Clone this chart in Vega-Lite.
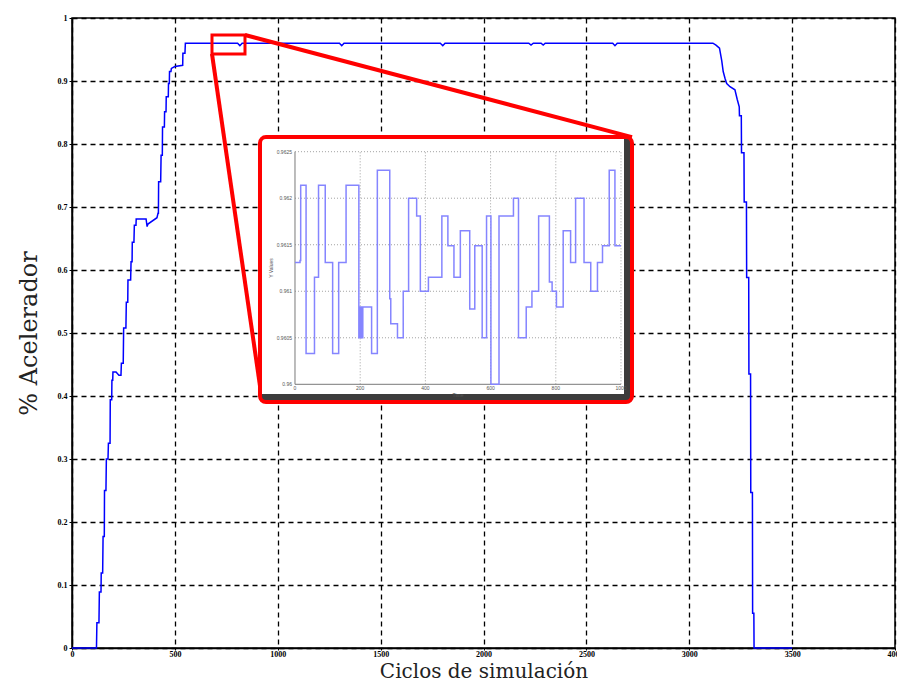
{
  "$schema": "https://vega.github.io/schema/vega-lite/v6.json",
  "width": 823,
  "height": 630,
  "autosize": "none",
  "padding": {"left": 72, "top": 18, "right": 2, "bottom": 34},
  "background": "white",
  "config": {"view": {"stroke": "#000", "strokeWidth": 1.5}},
  "datasets": {
    "main": [
      {"c":0,"a":0},{"c":119,"a":0},{"c":121,"a":0.04},{"c":131,"a":0.04},{"c":133,"a":0.089},{"c":141,"a":0.089},
      {"c":142,"a":0.119},{"c":149,"a":0.119},{"c":151,"a":0.177},{"c":157,"a":0.177},{"c":158,"a":0.25},{"c":165,"a":0.25},
      {"c":167,"a":0.3},{"c":175,"a":0.3},{"c":177,"a":0.325},{"c":185,"a":0.325},{"c":186,"a":0.394},{"c":193,"a":0.394},
      {"c":194,"a":0.425},{"c":198,"a":0.425},{"c":199,"a":0.438},{"c":214,"a":0.438},{"c":228,"a":0.433},{"c":238,"a":0.433},
      {"c":240,"a":0.452},{"c":249,"a":0.452},{"c":251,"a":0.508},{"c":262,"a":0.508},{"c":264,"a":0.549},{"c":271,"a":0.549},
      {"c":272,"a":0.584},{"c":285,"a":0.584},{"c":287,"a":0.613},{"c":292,"a":0.613},{"c":293,"a":0.644},{"c":301,"a":0.644},
      {"c":303,"a":0.671},{"c":311,"a":0.671},{"c":312,"a":0.681},{"c":360,"a":0.681},{"c":365,"a":0.669},{"c":369,"a":0.673},
      {"c":413,"a":0.683},{"c":418,"a":0.69},{"c":420,"a":0.69},{"c":421,"a":0.74},{"c":431,"a":0.74},{"c":433,"a":0.782},
      {"c":439,"a":0.782},{"c":440,"a":0.827},{"c":449,"a":0.827},{"c":450,"a":0.851},{"c":457,"a":0.851},{"c":458,"a":0.875},
      {"c":468,"a":0.875},{"c":469,"a":0.896},{"c":473,"a":0.896},{"c":474,"a":0.915},{"c":481,"a":0.915},{"c":483,"a":0.92},
      {"c":500,"a":0.923},{"c":538,"a":0.925},{"c":539,"a":0.944},{"c":549,"a":0.944},{"c":551,"a":0.96},
      {"c":805,"a":0.96},{"c":816,"a":0.956},{"c":827,"a":0.96},
      {"c":1300,"a":0.96},{"c":1311,"a":0.956},{"c":1322,"a":0.96},
      {"c":1790,"a":0.96},{"c":1802,"a":0.956},{"c":1813,"a":0.96},
      {"c":2220,"a":0.96},{"c":2231,"a":0.957},{"c":2242,"a":0.96},
      {"c":2280,"a":0.96},{"c":2290,"a":0.957},{"c":2300,"a":0.96},
      {"c":2628,"a":0.96},{"c":2639,"a":0.956},{"c":2650,"a":0.96},
      {"c":3115,"a":0.96},{"c":3130,"a":0.957},{"c":3147,"a":0.952},{"c":3158,"a":0.932},{"c":3165,"a":0.915},{"c":3174,"a":0.904},
      {"c":3182,"a":0.896},{"c":3198,"a":0.891},{"c":3222,"a":0.886},{"c":3233,"a":0.871},{"c":3243,"a":0.859},{"c":3244,"a":0.845},
      {"c":3253,"a":0.845},{"c":3254,"a":0.786},{"c":3266,"a":0.786},{"c":3267,"a":0.708},{"c":3278,"a":0.708},{"c":3279,"a":0.588},
      {"c":3289,"a":0.588},{"c":3290,"a":0.435},{"c":3298,"a":0.435},{"c":3299,"a":0.247},{"c":3307,"a":0.247},{"c":3308,"a":0.055},
      {"c":3314,"a":0.055},{"c":3315,"a":0},{"c":3500,"a":0}
    ],
    "zoom": [
      {"t":0,"v":0.96131},{"t":15.5,"v":0.96133},{"t":17.5,"v":0.96214},{"t":34,"v":0.96033},{"t":59.8,"v":0.96115},
      {"t":72.2,"v":0.96214},{"t":92.8,"v":0.96131},{"t":115.5,"v":0.96033},{"t":134,"v":0.96131},{"t":156.7,"v":0.96214},
      {"t":195.9,"v":0.9605},{"t":200,"v":0.96083},{"t":202,"v":0.9605},{"t":204,"v":0.96083},{"t":206,"v":0.9605},
      {"t":208,"v":0.96083},{"t":235,"v":0.96033},{"t":252.6,"v":0.9623},{"t":290.7,"v":0.96092},{"t":293.8,"v":0.96065},
      {"t":314.4,"v":0.9605},{"t":332,"v":0.961},{"t":348.5,"v":0.962},{"t":373.2,"v":0.96181},{"t":384.5,"v":0.961},
      {"t":409.3,"v":0.96115},{"t":450.5,"v":0.96181},{"t":469,"v":0.96149},{"t":487.6,"v":0.96115},{"t":507.2,"v":0.96165},
      {"t":536,"v":0.96081},{"t":551.5,"v":0.96149},{"t":574.2,"v":0.9605},{"t":587.6,"v":0.96181},{"t":601,"v":0.96},
      {"t":625.8,"v":0.96181},{"t":670.1,"v":0.962},{"t":685.6,"v":0.9605},{"t":709.3,"v":0.96083},{"t":726.8,"v":0.961},
      {"t":747.4,"v":0.96181},{"t":780.4,"v":0.9611},{"t":788.7,"v":0.961},{"t":802,"v":0.96083},{"t":822.7,"v":0.96165},
      {"t":845.4,"v":0.96131},{"t":860.8,"v":0.962},{"t":886.6,"v":0.96131},{"t":907.2,"v":0.961},{"t":927.8,"v":0.96131},
      {"t":943.3,"v":0.96149},{"t":963.9,"v":0.9623},{"t":981.4,"v":0.96149},{"t":1000,"v":0.96149}
    ]
  },
  "layer": [
    {
      "layer": [
        {
          "data": {"name": "main"},
          "mark": {"type": "line", "color": "#0000ff", "strokeWidth": 1.5},
          "encoding": {
            "x": {"field": "c", "type": "quantitative", "title": "Ciclos de simulación",
              "scale": {"domain": [0, 4000], "nice": false, "zero": false},
              "axis": {"values": [0,500,1000,1500,2000,2500,3000,3500,4000], "format": "d", "grid": true, "gridColor": "#000", "gridDash": [5,4], "gridWidth": 1.3,
                "domainColor": "#000", "domainWidth": 1.5, "tickColor": "#000", "tickSize": 2, "labelFlush": false, "labelOverlap": false,
                "labelFont": "Liberation Serif", "labelFontSize": 8, "labelFontWeight": "bold", "labelColor": "#000", "labelPadding": 0,
                "titleFont": "DejaVu Serif", "titleFontSize": 20, "titleFontWeight": "normal", "titleColor": "#222",
                "titleBaseline": "alphabetic", "titleY": 29}},
            "y": {"field": "a", "type": "quantitative", "title": "% Acelerador",
              "scale": {"domain": [0, 1], "nice": false},
              "axis": {"values": [0,0.1,0.2,0.3,0.4,0.5,0.6,0.7,0.8,0.9,1], "format": "~g", "grid": true, "gridColor": "#000", "gridDash": [5,4], "gridWidth": 1.3,
                "domainColor": "#000", "domainWidth": 1.5, "tickColor": "#000", "tickSize": 3, "labelFlush": false, "labelOverlap": false,
                "labelFont": "Liberation Serif", "labelFontSize": 8, "labelFontWeight": "bold", "labelColor": "#000", "labelPadding": 2,
                "titleFont": "DejaVu Serif", "titleFontSize": 24, "titleFontWeight": "normal", "titleColor": "#222", "titlePadding": 16}}
          }
        },
        {
          "data": {"values": [
            {"c1": 840.8, "a1": 0.973, "c2": 2721.7, "a2": 0.811},
            {"c1": 680.4, "a1": 0.943, "c2": 923, "a2": 0.395}
          ]},
          "mark": {"type": "rule", "color": "#ff0000", "strokeWidth": 4},
          "encoding": {
            "x": {"field": "c1", "type": "quantitative", "title": "Ciclos de simulación"},
            "y": {"field": "a1", "type": "quantitative", "title": "% Acelerador"},
            "x2": {"field": "c2"},
            "y2": {"field": "a2"}
          }
        },
        {
          "data": {"values": [{"c1": 680.4, "c2": 840.8, "a1": 0.973, "a2": 0.943}]},
          "mark": {"type": "rect", "filled": false, "color": "#ff0000", "strokeWidth": 3},
          "encoding": {
            "x": {"field": "c1", "type": "quantitative", "title": "Ciclos de simulación"},
            "x2": {"field": "c2"},
            "y": {"field": "a1", "type": "quantitative", "title": "% Acelerador"},
            "y2": {"field": "a2"}
          }
        },
        {
          "data": {"values": [{"c1": 913.7, "c2": 2721.7, "a1": 0.811, "a2": 0.3905}]},
          "mark": {"type": "rect", "color": "#3c3c3c", "cornerRadius": 5},
          "encoding": {
            "x": {"field": "c1", "type": "quantitative", "title": "Ciclos de simulación"},
            "x2": {"field": "c2"},
            "y": {"field": "a1", "type": "quantitative", "title": "% Acelerador"},
            "y2": {"field": "a2"}
          }
        },
        {
          "data": {"values": [{"c1": 913.7, "c2": 2682.9, "a1": 0.811, "a2": 0.403}]},
          "mark": {"type": "rect", "color": "#ffffff"},
          "encoding": {
            "x": {"field": "c1", "type": "quantitative", "title": "Ciclos de simulación"},
            "x2": {"field": "c2"},
            "y": {"field": "a1", "type": "quantitative", "title": "% Acelerador"},
            "y2": {"field": "a2"}
          }
        },
        {
          "data": {"values": [{"c1": 913.7, "c2": 2721.7, "a1": 0.811, "a2": 0.3905}]},
          "mark": {"type": "rect", "filled": false, "color": "#ff0000", "strokeWidth": 4, "cornerRadius": 6},
          "encoding": {
            "x": {"field": "c1", "type": "quantitative", "title": "Ciclos de simulación"},
            "x2": {"field": "c2"},
            "y": {"field": "a1", "type": "quantitative", "title": "% Acelerador"},
            "y2": {"field": "a2"}
          }
        }
      ]
    },
    {
      "layer": [
        {
          "data": {"values": [{"t": 200}, {"t": 400}, {"t": 600}, {"t": 800}, {"t": 1000}]},
          "mark": {"type": "rule", "color": "#8a8a8a", "strokeWidth": 0.8, "strokeDash": [1, 2]},
          "encoding": {
            "x": {"field": "t", "type": "quantitative", "scale": {"domain": [-684, 1840.5], "nice": false, "zero": false}, "axis": null},
            "y": {"datum": 0.96, "type": "quantitative", "scale": {"domain": [0.9571657, 0.963937], "nice": false, "zero": false}, "axis": null},
            "y2": {"datum": 0.9625}
          }
        },
        {
          "data": {"values": [{"v": 0.9605}, {"v": 0.961}, {"v": 0.9615}, {"v": 0.962}, {"v": 0.9625}]},
          "mark": {"type": "rule", "color": "#8a8a8a", "strokeWidth": 0.8, "strokeDash": [1, 2]},
          "encoding": {
            "y": {"field": "v", "type": "quantitative", "axis": null},
            "x": {"datum": 0, "type": "quantitative", "axis": null},
            "x2": {"datum": 1000}
          }
        },
        {
          "data": {"values": [{"t1": 0, "t2": 0, "v1": 0.96, "v2": 0.9625}, {"t1": 0, "t2": 1000, "v1": 0.96, "v2": 0.96}]},
          "mark": {"type": "rule", "color": "#7a7a7a", "strokeWidth": 1},
          "encoding": {
            "x": {"field": "t1", "type": "quantitative", "axis": null},
            "x2": {"field": "t2"},
            "y": {"field": "v1", "type": "quantitative", "axis": null},
            "y2": {"field": "v2"}
          }
        },
        {
          "data": {"values": [{"t": 0, "lab": "0"}, {"t": 200, "lab": "200"}, {"t": 400, "lab": "400"}, {"t": 600, "lab": "600"}, {"t": 800, "lab": "800"}, {"t": 1000, "lab": "1000"}]},
          "mark": {"type": "text", "fontSize": 5, "color": "#555", "baseline": "top", "dy": 2},
          "encoding": {
            "x": {"field": "t", "type": "quantitative", "axis": null},
            "y": {"datum": 0.96, "type": "quantitative", "axis": null},
            "text": {"field": "lab"}
          }
        },
        {
          "data": {"values": [{"v": 0.96, "lab": "0.96"}, {"v": 0.9605, "lab": "0.9605"}, {"v": 0.961, "lab": "0.961"}, {"v": 0.9615, "lab": "0.9615"}, {"v": 0.962, "lab": "0.962"}, {"v": 0.9625, "lab": "0.9625"}]},
          "mark": {"type": "text", "fontSize": 5, "color": "#555", "align": "right", "dx": -3},
          "encoding": {
            "y": {"field": "v", "type": "quantitative", "axis": null},
            "x": {"datum": 0, "type": "quantitative", "axis": null},
            "text": {"field": "lab"}
          }
        },
        {
          "data": {"values": [{"t": 500, "v": 0.96, "lab": "Time"}]},
          "mark": {"type": "text", "fontSize": 5, "color": "#555", "baseline": "top", "dy": 9},
          "encoding": {
            "x": {"field": "t", "type": "quantitative", "axis": null},
            "y": {"field": "v", "type": "quantitative", "axis": null},
            "text": {"field": "lab"}
          }
        },
        {
          "data": {"values": [{"t": 0, "v": 0.96125, "lab": "Y Values"}]},
          "mark": {"type": "text", "fontSize": 5, "color": "#555", "angle": 270, "dy": -24},
          "encoding": {
            "x": {"field": "t", "type": "quantitative", "axis": null},
            "y": {"field": "v", "type": "quantitative", "axis": null},
            "text": {"field": "lab"}
          }
        },
        {
          "data": {"name": "zoom"},
          "mark": {"type": "line", "interpolate": "step-after", "color": "#8585ff", "strokeWidth": 1.5},
          "encoding": {
            "x": {"field": "t", "type": "quantitative", "axis": null},
            "y": {"field": "v", "type": "quantitative", "axis": null}
          }
        }
      ]
    }
  ],
  "resolve": {"scale": {"x": "independent", "y": "independent"}, "axis": {"x": "independent", "y": "independent"}}
}
